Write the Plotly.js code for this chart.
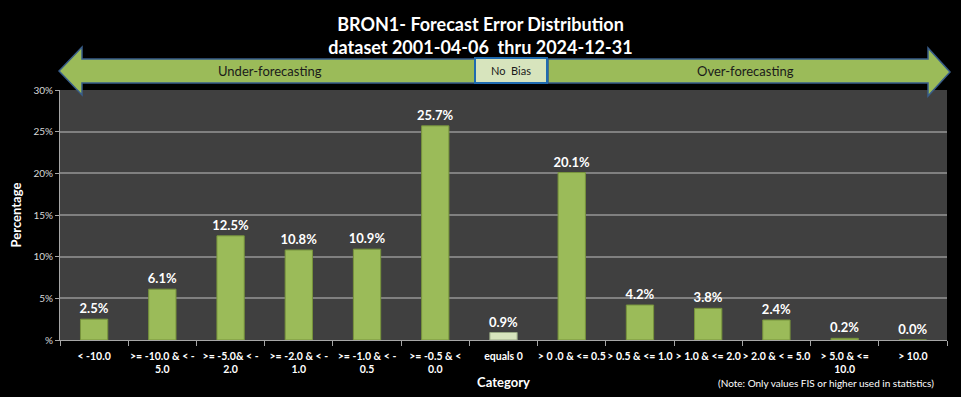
<!DOCTYPE html>
<html>
<head>
<meta charset="utf-8">
<script src="https://cdn.plot.ly/plotly-3.0.1.min.js"></script>
<style>html,body{margin:0;padding:0;background:#000;}#chart{width:961px;height:397px;}</style>
</head>
<body>
<div id="chart"></div>
<script>
const categories = [
  "< -10.0",
  ">= -10.0 & < -<br>5.0",
  ">= -5.0& < -<br>2.0",
  ">= -2.0 & < -<br>1.0",
  ">= -1.0 & < -<br>0.5",
  ">= -0.5 & <<br>0.0",
  "equals 0",
  "> 0 .0 & <= 0.5",
  "> 0.5 & <= 1.0",
  "> 1.0 & <= 2.0",
  "> 2.0 & < = 5.0",
  "> 5.0 & <=<br>10.0",
  "> 10.0"
];
const percentages = [2.5, 6.1, 12.5, 10.8, 10.9, 25.7, 0.9, 20.1, 4.2, 3.8, 2.4, 0.2, 0.0];
const yTickVals = [0, 5, 10, 15, 20, 25, 30];
const yTickText = ["%", "5%", "10%", "15%", "20%", "25%", "30%"];

const FONT = "Lato, 'Open Sans', sans-serif";
const W = 961, H = 397;
const L = 60, R = 14, T = 90, B = 57;
const pw = W - L - R, ph = H - T - B;
function px(x) { return (x - L) / pw; }
function py(y) { return (H - B - y) / ph; }
function path(pts) {
  return pts.map((p, i) => (i ? "L" : "M") + px(p[0]).toFixed(4) + "," + py(p[1]).toFixed(4)).join(" ") + " Z";
}

const barColors = percentages.map((v, i) => categories[i] === "equals 0" ? "#D7E4BD" : "#9BBB59");
const barLines = percentages.map((v, i) => categories[i] === "equals 0" ? "#98A884" : "#77933C");

const trace = {
  type: "bar",
  x: categories,
  y: percentages,
  marker: { color: barColors, line: { color: barLines, width: 1 } },
  text: percentages.map(v => v.toFixed(1) + "%"),
  textposition: "outside",
  constraintext: "none",
  textfont: { family: FONT, size: 13, color: "#FFFFFF", weight: "bold" },
  cliponaxis: false,
  hoverinfo: "x+y"
};

const leftArrow = [[59,71],[82,47],[82,59],[475,59],[475,83],[82,83],[82,95]];
const rightArrow = [[548,59],[928,59],[928,48],[950,72],[928,96],[928,83],[548,83]];

const layout = {
  width: W, height: H,
  paper_bgcolor: "#000000",
  plot_bgcolor: "#404040",
  margin: { l: L, r: R, t: T, b: B },
  bargap: 0.6,
  showlegend: false,
  title: {
    text: "<b>BRON1- Forecast Error Distribution<br>dataset 2001-04-06  thru 2024-12-31</b>",
    font: { family: FONT, size: 18, color: "#FFFFFF" },
    x: 0.5, xanchor: "center",
    y: 1 - 31 / H, yanchor: "middle", yref: "container"
  },
  xaxis: {
    type: "category",
    tickfont: { family: FONT, size: 10.5, color: "#FFFFFF", weight: "bold" },
    ticks: "outside", tickson: "boundaries", ticklen: 5, tickcolor: "#A6A6A6",
    ticklabelstandoff: 6,
    showline: true, linecolor: "#A6A6A6", linewidth: 1,
    showgrid: false,
    tickangle: 0,
    title: { text: "<b>Category</b>", font: { family: FONT, size: 13, color: "#FFFFFF" }, standoff: 3 }
  },
  yaxis: {
    range: [0, 30],
    tickvals: yTickVals, ticktext: yTickText,
    tickfont: { family: FONT, size: 10, color: "#D9D9D9" },
    ticks: "outside", ticklen: 4, tickcolor: "#A6A6A6",
    showline: true, linecolor: "#A6A6A6", linewidth: 1,
    showgrid: true, gridcolor: "#808080", gridwidth: 1.5,
    zeroline: false,
    title: { text: "<b>Percentage</b>", font: { family: FONT, size: 13, color: "#FFFFFF" }, standoff: 8 }
  },
  shapes: [
    { type: "path", xref: "paper", yref: "paper", path: path(leftArrow), fillcolor: "#9BBB59", line: { color: "#385D8A", width: 1.5 }, layer: "above" },
    { type: "path", xref: "paper", yref: "paper", path: path(rightArrow), fillcolor: "#9BBB59", line: { color: "#385D8A", width: 1.5 }, layer: "above" },
    { type: "rect", xref: "paper", yref: "paper", x0: px(475), x1: px(547), y0: py(58), y1: py(83), fillcolor: "#D7E4BD", line: { color: "#1F6BB0", width: 2 }, layer: "above" }
  ],
  annotations: [
    { xref: "paper", yref: "paper", x: px(270), y: py(71), text: "Under-forecasting", showarrow: false, font: { family: FONT, size: 13, color: "#1A1A1A" }, xanchor: "center", yanchor: "middle" },
    { xref: "paper", yref: "paper", x: px(745), y: py(71), text: "Over-forecasting", showarrow: false, font: { family: FONT, size: 13, color: "#1A1A1A" }, xanchor: "center", yanchor: "middle" },
    { xref: "paper", yref: "paper", x: px(511), y: py(71), text: "No  Bias", showarrow: false, font: { family: FONT, size: 11, color: "#1A1A1A" }, xanchor: "center", yanchor: "middle" },
    { xref: "paper", yref: "paper", x: px(936), y: py(383), text: "(Note: Only values FIS or higher used in statistics)", showarrow: false, font: { family: FONT, size: 10, color: "#FFFFFF" }, xanchor: "right", yanchor: "middle" }
  ]
};

Plotly.newPlot("chart", [trace], layout, { displayModeBar: false, responsive: false });
</script>
</body>
</html>
